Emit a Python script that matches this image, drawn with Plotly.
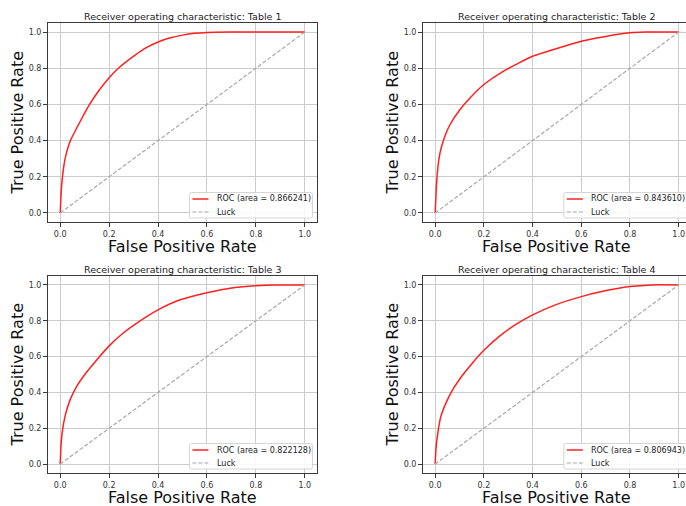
import plotly.graph_objects as go

# ROC curves (false positive rate, true positive rate) per table
fpr_t1 = [0.0, 0.004, 0.01, 0.02, 0.04, 0.082, 0.12, 0.156, 0.2, 0.238, 0.306, 0.35, 0.4, 0.45, 0.5, 0.55, 0.6, 0.7, 1.0]
tpr_t1 = [0.0, 0.12, 0.21, 0.30, 0.395, 0.507, 0.6, 0.673, 0.748, 0.8, 0.872, 0.912, 0.945, 0.968, 0.983, 0.993, 0.998, 1.0, 1.0]

fpr_t2 = [0.0, 0.004, 0.0095, 0.02, 0.037, 0.061, 0.102, 0.143, 0.2, 0.279, 0.4, 0.497, 0.6, 0.7, 0.8, 0.864, 1.0]
tpr_t2 = [0.0, 0.121, 0.232, 0.333, 0.415, 0.489, 0.572, 0.636, 0.71, 0.783, 0.866, 0.908, 0.949, 0.976, 0.996, 1.0, 1.0]

fpr_t3 = [0.0, 0.003, 0.008, 0.02, 0.041, 0.068, 0.109, 0.15, 0.2, 0.259, 0.313, 0.4, 0.49, 0.6, 0.707, 0.8, 0.884, 1.0]
tpr_t3 = [0.0, 0.10, 0.176, 0.269, 0.361, 0.435, 0.515, 0.583, 0.66, 0.733, 0.787, 0.861, 0.917, 0.957, 0.985, 0.996, 1.0, 1.0]

fpr_t4 = [0.0, 0.003, 0.011, 0.024, 0.045, 0.072, 0.113, 0.154, 0.2, 0.263, 0.33, 0.4, 0.494, 0.6, 0.684, 0.8, 0.888, 1.0]
tpr_t4 = [0.0, 0.083, 0.176, 0.269, 0.343, 0.415, 0.497, 0.566, 0.635, 0.713, 0.778, 0.833, 0.889, 0.935, 0.963, 0.991, 1.0, 1.0]

table_names = ["Table 1", "Table 2", "Table 3", "Table 4"]
auc_values = [0.866241, 0.843610, 0.822128, 0.806943]
luck_x = [0, 1]
luck_y = [0, 1]
tick_vals = [0.0, 0.2, 0.4, 0.6, 0.8, 1.0]
tick_text = ["0.0", "0.2", "0.4", "0.6", "0.8", "1.0"]

curves = [(fpr_t1, tpr_t1), (fpr_t2, tpr_t2), (fpr_t3, tpr_t3), (fpr_t4, tpr_t4)]

W, H = 686, 506
FONT = "DejaVu Sans"
RED = "#ff2020"
GREY = "#a8a8a8"


def px(v):
    return v / W


def py(v):
    return 1 - v / H


# panel boxes in pixels: (left, right, top, bottom, x range upper bound)
panels = [
    (48, 317, 23, 222, 1.05),
    (423, 686, 23, 222, 1.03),
    (48, 317, 276, 473, 1.05),
    (423, 686, 276, 473, 1.03),
]

fig = go.Figure()
annotations = []
shapes = []
layout = {}

for i, ((fpr, tpr), name, auc, (l, r, t, b, xmax)) in enumerate(zip(curves, table_names, auc_values, panels)):
    n = "" if i == 0 else str(i + 1)
    xa, ya = "x" + n, "y" + n
    fig.add_trace(go.Scatter(
        x=fpr, y=tpr, xaxis=xa, yaxis=ya, mode="lines",
        line=dict(color=RED, width=1.5, shape="spline", smoothing=0.5),
        name="ROC (area = %0.6f)" % auc, showlegend=False, hoverinfo="skip",
    ))
    fig.add_trace(go.Scatter(
        x=luck_x, y=luck_y, xaxis=xa, yaxis=ya, mode="lines",
        line=dict(color=GREY, width=1.2, dash="4px,2px"),
        name="Luck", showlegend=False, hoverinfo="skip",
    ))
    axis_common = dict(
        tickvals=tick_vals, ticktext=tick_text, showgrid=True, gridcolor="#cccccc",
        gridwidth=1, zeroline=False, showline=True, linecolor="#3a3a3a", linewidth=1,
        ticks="outside", ticklen=4, tickcolor="#3a3a3a",
        tickfont=dict(family=FONT, size=8, color="#333333"), fixedrange=True,
    )
    layout["xaxis" + n] = dict(
        axis_common, domain=[px(l), px(r)], range=[-0.05, xmax], anchor=ya, mirror=True,
        ticklabeloverflow="allow",
    )
    layout["yaxis" + n] = dict(
        axis_common, domain=[py(b), py(t)], range=[-0.05, 1.05], anchor=xa, mirror=(xmax > 1.04),
    )

    x0 = l + 0.05 / (xmax + 0.05) * (r - l)
    unit = (r - l) / (xmax + 0.05)
    cx = x0 + 0.5 * unit
    cy = (t + b) / 2
    # subplot title
    annotations.append(dict(
        text="Receiver operating characteristic: " + name, x=px(cx), y=py(t - 7),
        xref="paper", yref="paper", xanchor="center", yanchor="middle", showarrow=False,
        font=dict(family=FONT, size=9.5, color="#222222"),
    ))
    # axis titles
    annotations.append(dict(
        text="False Positive Rate", x=px(cx), y=py(b + 24), xref="paper", yref="paper",
        xanchor="center", yanchor="middle", showarrow=False,
        font=dict(family=FONT, size=16, color="#111111"),
    ))
    annotations.append(dict(
        text="True Positive Rate", x=px(l - 31), y=py(cy), xref="paper", yref="paper",
        xanchor="center", yanchor="middle", showarrow=False, textangle=-90,
        font=dict(family=FONT, size=16, color="#111111"),
    ))

    # legend box in the lower right corner
    lx0 = x0 + 0.5366 * unit - 2
    lx1 = lx0 + 123
    ly0 = b - 29.5
    ly1 = b - 4
    rad = 2
    path = (
        f"M {px(lx0 + rad)},{py(ly0)} L {px(lx1 - rad)},{py(ly0)} "
        f"Q {px(lx1)},{py(ly0)} {px(lx1)},{py(ly0 + rad)} L {px(lx1)},{py(ly1 - rad)} "
        f"Q {px(lx1)},{py(ly1)} {px(lx1 - rad)},{py(ly1)} L {px(lx0 + rad)},{py(ly1)} "
        f"Q {px(lx0)},{py(ly1)} {px(lx0)},{py(ly1 - rad)} L {px(lx0)},{py(ly0 + rad)} "
        f"Q {px(lx0)},{py(ly0)} {px(lx0 + rad)},{py(ly0)} Z"
    )
    shapes.append(dict(type="path", path=path, xref="paper", yref="paper",
                       line=dict(color="#d5d5d5", width=1), fillcolor="rgba(255,255,255,0.85)",
                       layer="above"))
    rows = [("ROC (area = %0.6f)" % auc, RED, "solid", 1.5, ly0 + 6.5),
            ("Luck", GREY, "4px,2px", 1.2, ly0 + 19.5)]
    for label, col, dash, wd, ry in rows:
        shapes.append(dict(type="line", xref="paper", yref="paper",
                           x0=px(lx0 + 3), x1=px(lx0 + 19), y0=py(ry), y1=py(ry),
                           line=dict(color=col, width=wd, dash=dash), layer="above"))
        annotations.append(dict(
            text=label, x=px(lx0 + 25.5), y=py(ry), xref="paper", yref="paper",
            xanchor="left", yanchor="middle", showarrow=False,
            font=dict(family=FONT, size=8, color="#222222"),
        ))

fig.update_layout(
    width=W, height=H, autosize=False,
    margin=dict(l=0, r=0, t=0, b=0),
    paper_bgcolor="white", plot_bgcolor="white",
    showlegend=False, annotations=annotations, shapes=shapes,
    **layout,
)

fig.write_html("out.html", config={"displayModeBar": False})
